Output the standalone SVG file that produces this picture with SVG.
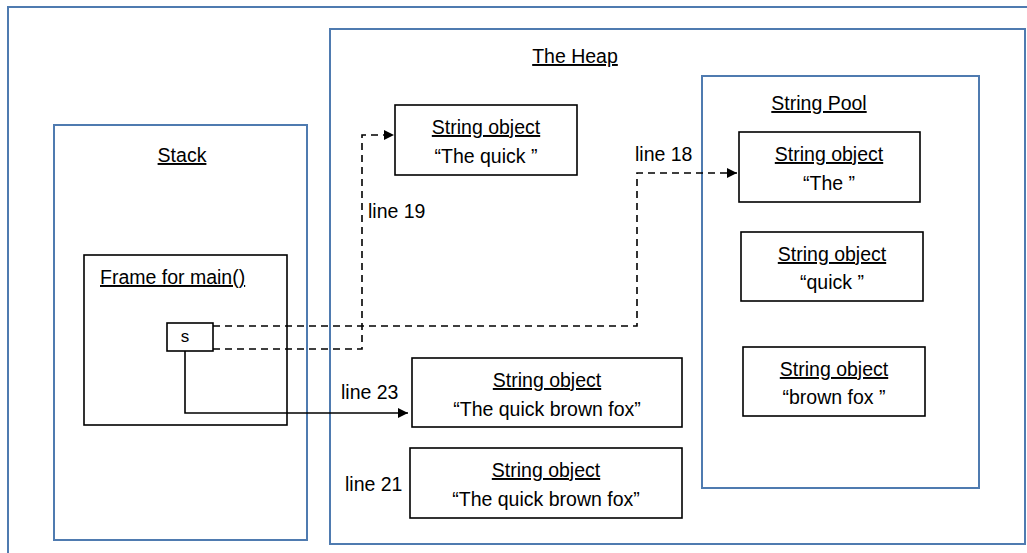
<svg xmlns="http://www.w3.org/2000/svg" width="1027" height="553" viewBox="0 0 1027 553">
<defs>
<style>
.area{fill:none;stroke:#4f7bb0;stroke-width:2}
.box{fill:#fff;stroke:#000;stroke-width:1.6}
text{font-family:"Liberation Sans",Arial,sans-serif;font-size:19.5px;fill:#000}
.t{text-anchor:middle}
.u{text-decoration:underline}
.c{fill:none;stroke:#000;stroke-width:1.6}
.d{stroke-dasharray:7 5}
</style>
<marker id="ah" viewBox="0 0 10 10" refX="10" refY="5" markerWidth="10" markerHeight="10" markerUnits="userSpaceOnUse" orient="auto">
<path d="M0,0 L10,5 L0,10 z" fill="#000"/>
</marker>
</defs>
<rect width="1027" height="553" fill="#fff"/>
<rect class="area" x="8" y="7" width="1040" height="560"/>
<g id="heap">
<rect class="area" x="330" y="29" width="695" height="515"/>
<text class="t u" x="575" y="63">The Heap</text>
</g>
<g id="stack">
<rect class="area" x="54" y="125" width="253" height="415"/>
<text class="t u" x="182" y="162">Stack</text>
</g>
<g id="pool">
<rect class="area" x="702" y="76" width="277" height="412"/>
<text class="t u" x="819" y="110">String Pool</text>
</g>
<g id="frame">
<rect class="box" x="84" y="255" width="203" height="170"/>
<text class="u" x="100" y="284">Frame for main()</text>
</g>
<g id="s">
<rect class="box" x="167" y="323" width="46" height="28"/>
<text class="t" x="185" y="342" style="font-size:17px">s</text>
</g>
<g id="obj-thequick">
<rect class="box" x="395" y="105" width="182" height="70"/>
<text class="t u" x="486" y="134">String object</text>
<text class="t" x="486" y="163">“The quick ”</text>
</g>
<g id="obj-fox1">
<rect class="box" x="412" y="358" width="270" height="69"/>
<text class="t u" x="547" y="387">String object</text>
<text class="t" x="547" y="416">“The quick brown fox”</text>
</g>
<g id="obj-fox2">
<rect class="box" x="410" y="448" width="272" height="70"/>
<text class="t u" x="546" y="477">String object</text>
<text class="t" x="546" y="506">“The quick brown fox”</text>
</g>
<g id="pool-the">
<rect class="box" x="739" y="132" width="181" height="70"/>
<text class="t u" x="829" y="161">String object</text>
<text class="t" x="829" y="190">“The ”</text>
</g>
<g id="pool-quick">
<rect class="box" x="741" y="232" width="182" height="69"/>
<text class="t u" x="832" y="261">String object</text>
<text class="t" x="832" y="289">“quick ”</text>
</g>
<g id="pool-fox">
<rect class="box" x="743" y="347" width="182" height="69"/>
<text class="t u" x="834" y="376">String object</text>
<text class="t" x="834" y="404">“brown fox ”</text>
</g>
<g id="connectors">
<path class="c d" d="M213,326 H637 V173 H737" marker-end="url(#ah)"/>
<path class="c d" d="M213,349 H362 V135 H394" marker-end="url(#ah)"/>
<path class="c" d="M185,351 V413 H408" marker-end="url(#ah)"/>
<text x="635" y="161">line 18</text>
<text x="368" y="218">line 19</text>
<text x="341" y="399">line 23</text>
<text x="345" y="491">line 21</text>
</g>
</svg>
